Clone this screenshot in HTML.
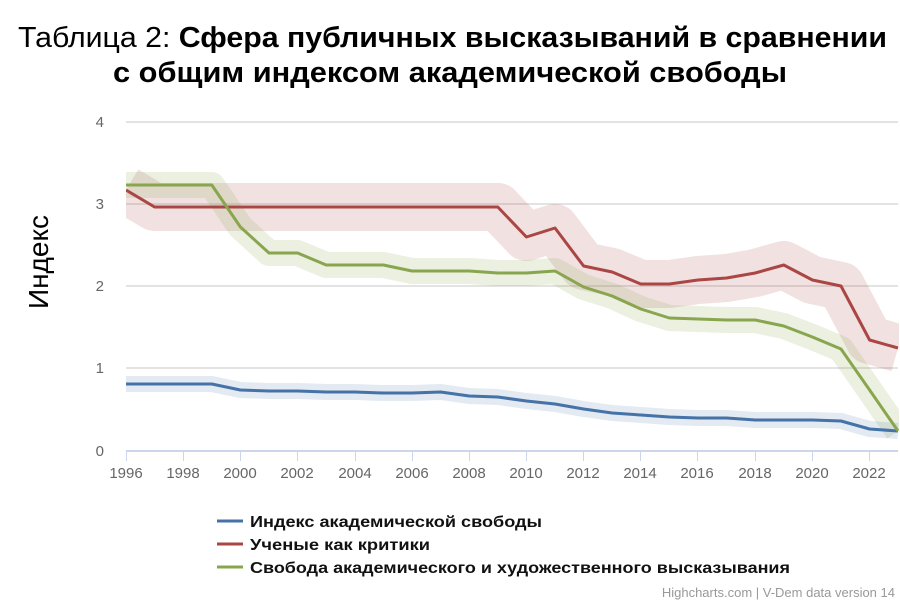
<!DOCTYPE html>
<html><head><meta charset="utf-8"><style>
body{margin:0;background:#fff;width:900px;height:600px;overflow:hidden}
svg text{font-family:"Liberation Sans","DejaVu Sans",sans-serif}
</style></head><body>
<svg width="900" height="600" xmlns="http://www.w3.org/2000/svg">
<defs><clipPath id="c"><rect x="126" y="100" width="773" height="352"/></clipPath></defs>
<text x="18" y="47" font-size="29" fill="#000" textLength="869" lengthAdjust="spacingAndGlyphs">Таблица 2: <tspan font-weight="bold">Сфера публичных высказываний в сравнении</tspan></text>
<text x="113" y="82" font-size="29" font-weight="bold" fill="#000" textLength="674" lengthAdjust="spacingAndGlyphs">с общим индексом академической свободы</text>
<text transform="translate(48,262) rotate(-90)" text-anchor="middle" font-size="28" fill="#000">Индекс</text>
<g stroke="#e3e3e3" stroke-width="2">
<line x1="126" x2="898" y1="122" y2="122"/><line x1="126" x2="898" y1="204" y2="204"/>
<line x1="126" x2="898" y1="286" y2="286"/><line x1="126" x2="898" y1="368" y2="368"/>
</g>
<g font-size="15" fill="#666" text-anchor="end">
<text x="104" y="127">4</text><text x="104" y="209">3</text><text x="104" y="291">2</text><text x="104" y="373">1</text><text x="104" y="456">0</text>
</g>
<line x1="126" x2="898" y1="451" y2="451" stroke="#ccd6eb" stroke-width="2"/>
<g stroke="#ccd6eb" stroke-width="1">
<line x1="126.5" x2="126.5" y1="451" y2="461"/><line x1="183.5" x2="183.5" y1="451" y2="461"/><line x1="240.5" x2="240.5" y1="451" y2="461"/><line x1="297.5" x2="297.5" y1="451" y2="461"/><line x1="355.5" x2="355.5" y1="451" y2="461"/><line x1="412.5" x2="412.5" y1="451" y2="461"/><line x1="469.5" x2="469.5" y1="451" y2="461"/><line x1="526.5" x2="526.5" y1="451" y2="461"/><line x1="583.5" x2="583.5" y1="451" y2="461"/><line x1="640.5" x2="640.5" y1="451" y2="461"/><line x1="697.5" x2="697.5" y1="451" y2="461"/><line x1="755.5" x2="755.5" y1="451" y2="461"/><line x1="812.5" x2="812.5" y1="451" y2="461"/><line x1="869.5" x2="869.5" y1="451" y2="461"/>
</g>
<g font-size="15" fill="#666" text-anchor="middle">
<text x="126" y="478">1996</text><text x="183" y="478">1998</text><text x="240" y="478">2000</text><text x="297" y="478">2002</text><text x="355" y="478">2004</text><text x="412" y="478">2006</text><text x="469" y="478">2008</text><text x="526" y="478">2010</text><text x="583" y="478">2012</text><text x="640" y="478">2014</text><text x="697" y="478">2016</text><text x="755" y="478">2018</text><text x="812" y="478">2020</text><text x="869" y="478">2022</text>
</g>
<g clip-path="url(#c)" fill="none" stroke-linejoin="round">
<path d="M126,190 L154.6,207 L497.8,207 L526.4,237 L555,228 L583.6,266 L612.2,272 L640.8,284 L669.4,284 L698,280 L726.6,278 L755.2,273 L783.8,265 L812.4,280 L841,286 L869.6,340 L898,348" stroke="rgba(170,70,67,0.16)" stroke-width="48"/>
<path d="M126,185 L211.8,185 L240.4,227 L269,253 L297.6,253 L326.2,265 L383.4,265 L412,271 L469.2,271 L497.8,273 L526.4,273 L555,271 L583.6,287 L612.2,296 L640.8,309 L669.4,318 L698,319 L726.6,320 L755.2,320 L783.8,326 L812.4,337 L841,349 L869.6,390 L898,431" stroke="rgba(137,165,78,0.17)" stroke-width="26"/>
<path d="M126,384 L211.8,384 L240.4,390 L269,391 L297.6,391 L326.2,392 L354.8,392 L383.4,393 L412,393 L440.6,392 L469.2,396 L497.8,397 L526.4,401 L555,404 L583.6,409 L612.2,413 L640.8,415 L669.4,417 L698,418 L726.6,418 L755.2,420 L783.8,420 L812.4,420 L841,421 L869.6,429 L898,431" stroke="rgba(69,114,167,0.15)" stroke-width="16"/>
<path d="M126,384 L211.8,384 L240.4,390 L269,391 L297.6,391 L326.2,392 L354.8,392 L383.4,393 L412,393 L440.6,392 L469.2,396 L497.8,397 L526.4,401 L555,404 L583.6,409 L612.2,413 L640.8,415 L669.4,417 L698,418 L726.6,418 L755.2,420 L783.8,420 L812.4,420 L841,421 L869.6,429 L898,431" stroke="#4572a7" stroke-width="3"/>
<path d="M126,190 L154.6,207 L497.8,207 L526.4,237 L555,228 L583.6,266 L612.2,272 L640.8,284 L669.4,284 L698,280 L726.6,278 L755.2,273 L783.8,265 L812.4,280 L841,286 L869.6,340 L898,348" stroke="#aa4643" stroke-width="3"/>
<path d="M126,185 L211.8,185 L240.4,227 L269,253 L297.6,253 L326.2,265 L383.4,265 L412,271 L469.2,271 L497.8,273 L526.4,273 L555,271 L583.6,287 L612.2,296 L640.8,309 L669.4,318 L698,319 L726.6,320 L755.2,320 L783.8,326 L812.4,337 L841,349 L869.6,390 L898,431" stroke="#89a54e" stroke-width="3"/>
</g>
<g font-size="16" font-weight="bold" fill="#111">
<line x1="217" x2="243" y1="521" y2="521" stroke="#4572a7" stroke-width="3"/><text x="250" y="527" textLength="292" lengthAdjust="spacingAndGlyphs">Индекс академической свободы</text>
<line x1="217" x2="243" y1="544" y2="544" stroke="#aa4643" stroke-width="3"/><text x="250" y="550" textLength="180" lengthAdjust="spacingAndGlyphs">Ученые как критики</text>
<line x1="217" x2="243" y1="567" y2="567" stroke="#89a54e" stroke-width="3"/><text x="250" y="573" textLength="540" lengthAdjust="spacingAndGlyphs">Свобода академического и художественного высказывания</text>
</g>
<text x="895" y="597" text-anchor="end" font-size="13" fill="#999">Highcharts.com | V-Dem data version 14</text>
</svg>
</body></html>
